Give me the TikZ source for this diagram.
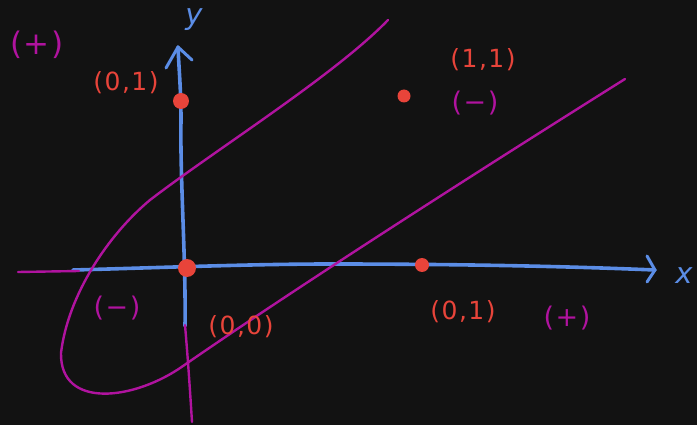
\documentclass[tikz,border=0pt]{standalone}
\usepackage{fontspec}
\setmainfont{DejaVu Sans}
\usetikzlibrary{arrows.meta}
\definecolor{bgc}{HTML}{121212}
\definecolor{axblue}{HTML}{5B8DE6}
\definecolor{ptred}{HTML}{E8443A}
\definecolor{mag}{HTML}{B0139F}
\tikzset{
  axis/.style={draw=axblue, line width=3.6pt, line cap=round, line join=round},
  head/.style={draw=axblue, line width=3pt, line cap=round, line join=round},
  pen/.style={draw=mag, line width=2.4pt, line cap=round, line join=round},
  dot/.style={circle, fill=ptred, inner sep=0pt},
  redlbl/.style={text=ptred, font=\fontsize{25}{28}\selectfont\addfontfeatures{LetterSpace=6}},
  maglbl/.style={text=mag, font=\fontsize{27}{30}\selectfont\addfontfeatures{LetterSpace=6}},
  axlbl/.style={text=axblue, font=\fontsize{29}{30}\selectfont\itshape},
}
\begin{document}
\begin{tikzpicture}[x=1pt,y=-1pt]
\fill[bgc] (0,0) rectangle (697,425);
\useasboundingbox (0,0) rectangle (697,425);

% named points
\coordinate (xs) at (73,270);
\coordinate (xe) at (655,270);
\coordinate (ys) at (185,326);
\coordinate (ye) at (178,47);

% x axis
\draw[axis] (xs) .. controls (150,268) and (250,264) .. (330,264)
  .. controls (450,264) and (560,266) .. (xe);
\draw[head] (647,256) -- (xe) -- (647,282);
% y axis
\draw[axis] (ys) .. controls (186,260) and (180,180) .. (181,120)
  .. controls (181,90) and (179,70) .. (ye);
\draw[head] (166,68) -- (ye) -- (192,60);

% magenta strokes
\coordinate (ms) at (388,20);
\coordinate (me) at (625,79);
\draw[pen] (ms) .. controls (335,75) and (215,150) .. (150,200)
  .. controls (108,235) and (68,295) .. (61,353)
  .. controls (60,410) and (135,400) .. (183,366)
  .. controls (300,285) and (480,170) .. (me);
\coordinate (hl) at (18,272);
\coordinate (hr) at (79,271);
\draw[pen] (hl) -- (hr);
\coordinate (vt) at (185,325);
\coordinate (vb) at (192,422);
\draw[pen] (vt) .. controls (188,360) and (190,390) .. (vb);

% points
\node[dot, minimum size=16pt] (p01) at (181,101) {};
\node[dot, minimum size=18pt] (p00) at (187,268) {};
\node[dot, minimum size=14pt] (p10) at (422,265) {};
\node[dot, minimum size=13pt] (p11) at (404,96) {};

% labels
\node[axlbl] (lx) at (684,276) {x};
\node[axlbl] (ly) at (194,20) {y};
\node[redlbl] (l01) at (126,83) {(0,1)};
\node[redlbl] (l11) at (483,60) {(1,1)};
\node[redlbl] (l00) at (241,327) {(0,0)};
\node[redlbl] (l10) at (463,312) {(0,1)};
\node[maglbl, font=\fontsize{31}{34}\selectfont\addfontfeatures{LetterSpace=6}] (s1) at (37,45) {(+)};
\node[maglbl] (s2) at (475,103) {(−)};
\node[maglbl] (s3) at (117,308) {(−)};
\node[maglbl] (s4) at (567,318) {(+)};
\end{tikzpicture}
\end{document}
